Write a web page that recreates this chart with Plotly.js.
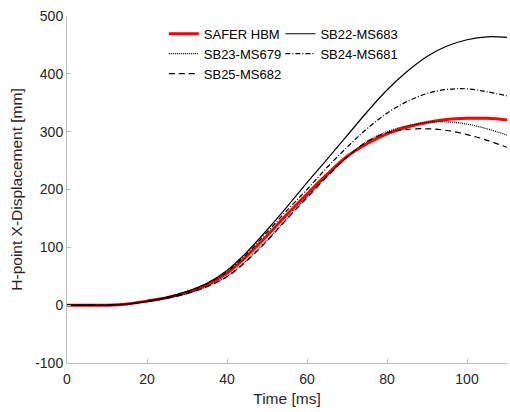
<!DOCTYPE html>
<html>
<head>
<meta charset="utf-8">
<script src="https://cdn.plot.ly/plotly-3.0.1.min.js"></script>
<style>html,body{margin:0;padding:0;background:#fff;}#chart{width:510px;height:412px;}</style>
</head>
<body>
<div id="chart"></div>
<script>
var time = [0,5,10,15,20,25,30,35,40,45,50,55,60,65,70,75,80,85,90,95,100,105,110];
var saferHBM = [0,0,0,2,7,13,22,35,55,85,120,157,192,226,257,279,296,308,316,321,323,323,320];
var sb22 = [0,0,0,2,7,14,24,38,60,92,130,170,212,252,293,334,372,404,430,448,459,464,463];
var sb23 = [0,0,0,2,6,12,20,32,50,78,112,150,187,223,256,283,300,310,316,317,313,305,294];
var sb24 = [0,0,0,2,7,13,23,37,58,89,126,164,200,238,273,305,332,352,366,373,374,369,362];
var sb25 = [0,0,0,2,6,12,20,32,49,77,111,149,186,222,256,283,298,304,305,302,295,285,273];
var xTicks = [0,20,40,60,80,100];
var yTicks = [-100,0,100,200,300,400,500];
var seriesNames = ['SAFER HBM','SB22-MS683','SB23-MS679','SB24-MS681','SB25-MS682'];

var traces = [
  {x: time, y: saferHBM, name: seriesNames[0], mode: 'lines', line: {color: '#ff0000', width: 3}, legend: 'legend'},
  {x: time, y: sb23, name: seriesNames[2], mode: 'lines', line: {color: '#000000', width: 1.2, dash: '1px,1px'}, legend: 'legend'},
  {x: time, y: sb25, name: seriesNames[4], mode: 'lines', line: {color: '#000000', width: 1.2, dash: '6px,4px'}, legend: 'legend'},
  {x: time, y: sb22, name: seriesNames[1], mode: 'lines', line: {color: '#000000', width: 1.2}, legend: 'legend2'},
  {x: time, y: sb24, name: seriesNames[3], mode: 'lines', line: {color: '#000000', width: 1.2, dash: '5px,2px,1px,2px'}, legend: 'legend2'}
];
traces.forEach(function(t){ t.line.shape = 'spline'; });

var font = {family: 'Liberation Sans, Arial, sans-serif', size: 14, color: '#262626'};
var legendStyle = {
  font: {family: 'Liberation Sans, Arial, sans-serif', size: 13, color: '#000'},
  bgcolor: 'rgba(0,0,0,0)', borderwidth: 0, xanchor: 'left', yanchor: 'top',
  orientation: 'v', tracegroupgap: 0, itemwidth: 30
};
var layout = {
  width: 510, height: 412,
  margin: {l: 67, r: 3, t: 16, b: 49},
  paper_bgcolor: '#fff', plot_bgcolor: '#fff',
  font: font,
  showlegend: true,
  legend: Object.assign({x: 0.22, y: 0.992}, legendStyle),
  legend2: Object.assign({x: 0.485, y: 0.992}, legendStyle),
  xaxis: {
    range: [0, 110], tickvals: xTicks, ticktext: xTicks.map(String),
    showgrid: false, zeroline: false, showline: true, linecolor: '#bdbdbd', linewidth: 1,
    ticks: 'inside', ticklen: 4, tickcolor: '#bdbdbd', tickfont: {size: 14, color: '#262626'},
    ticklabelstandoff: 3,
    title: {text: 'Time [ms]', font: {size: 15.5, color: '#262626'}, standoff: 7}
  },
  yaxis: {
    range: [-100, 500], tickvals: yTicks, ticktext: yTicks.map(String),
    showgrid: false, zeroline: false, showline: true, linecolor: '#bdbdbd', linewidth: 1,
    ticks: 'inside', ticklen: 4, tickcolor: '#bdbdbd', tickfont: {size: 14, color: '#262626'},
    title: {text: 'H-point X-Displacement [mm]', font: {size: 15.5, color: '#262626'}, standoff: 8}
  }
};
Plotly.newPlot('chart', traces, layout, {displayModeBar: false, staticPlot: true});
</script>
</body>
</html>
